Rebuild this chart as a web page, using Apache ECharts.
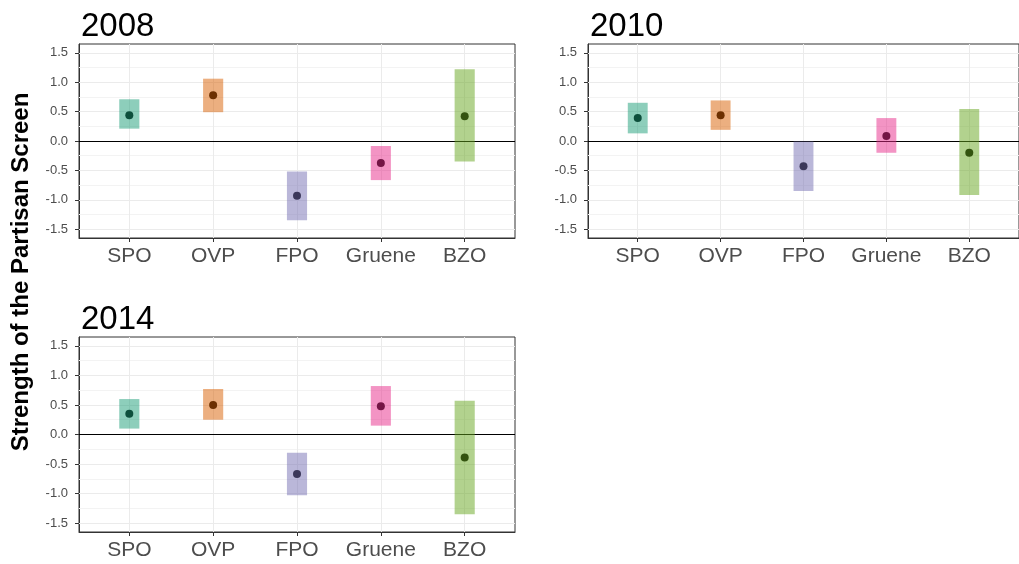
<!DOCTYPE html>
<html>
<head>
<meta charset="utf-8">
<script src="https://cdn.jsdelivr.net/npm/echarts@6/dist/echarts.min.js"></script>
<style>
  html, body { margin: 0; padding: 0; background: #fff; }
  #main { width: 1019px; height: 564px; }
</style>
</head>
<body>
<div id="main"></div>
<script>
// categories and values
var parties = ['SPO', 'OVP', 'FPO', 'Gruene', 'BZO'];
var years = ['2008', '2010', '2014'];

var est2008 = [0.44, 0.78, -0.93, -0.375, 0.42];
var lo2008  = [0.21, 0.49, -1.35, -0.665, -0.35];
var hi2008  = [0.71, 1.06, -0.52, -0.085, 1.22];

var est2010 = [0.39, 0.44, -0.43, 0.085, -0.2];
var lo2010  = [0.13, 0.19, -0.85, -0.2, -0.92];
var hi2010  = [0.65, 0.69, -0.01, 0.39, 0.545];

var est2014 = [0.35, 0.5, -0.67, 0.48, -0.39];
var lo2014  = [0.1, 0.25, -1.03, 0.15, -1.35];
var hi2014  = [0.6, 0.77, -0.31, 0.82, 0.57];

var yTicks = [-1.5, -1, -0.5, 0, 0.5, 1, 1.5];
var yMinor = [-1.25, -0.75, -0.25, 0.25, 0.75, 1.25];

var barColors = ['#1B9E77', '#D95F02', '#7570B3', '#E7298A', '#66A61E'];
var dotColors = ['#0d4f3c', '#6d3001', '#3b385a', '#741545', '#33530f'];

var font = '"Liberation Sans", Arial, sans-serif';
var barW = 0.24;

var myChart = echarts.init(document.getElementById('main'));

var panels = [
  { est: est2008, lo: lo2008, hi: hi2008, left: 79,  top: 44,  width: 436, height: 194 },
  { est: est2010, lo: lo2010, hi: hi2010, left: 588, top: 44,  width: 437, height: 194 },
  { est: est2014, lo: lo2014, hi: hi2014, left: 79,  top: 337, width: 436, height: 195 }
];

function renderRange(params, api) {
  var x = api.value(0);
  var top = api.coord([x, api.value(2)]);
  var bot = api.coord([x, api.value(1)]);
  var c = api.coord([x, api.value(3)]);
  var w = api.size([barW, 0])[0];
  var i = params.dataIndex;
  return {
    type: 'group',
    children: [
      { type: 'rect', shape: { x: top[0] - w / 2, y: top[1], width: w, height: bot[1] - top[1] },
        style: { fill: barColors[i], opacity: 0.5 } },
      { type: 'circle', shape: { cx: c[0], cy: c[1], r: 4 }, style: { fill: dotColors[i] } }
    ]
  };
}

var grids = [], xAxes = [], yAxes = [], series = [], titles = [];
var xIdx = parties.map(function (p, i) { return i; });

panels.forEach(function (p, k) {
  grids.push({ left: p.left, top: p.top, width: p.width, height: p.height,
    show: true, borderColor: '#333333', borderWidth: 1, backgroundColor: '#fff' });
  titles.push({ text: years[k], left: p.left - 3, top: p.top - 39,
    textStyle: { fontFamily: font, fontSize: 33, fontWeight: 'normal', color: '#000' } });
  xAxes.push({
    type: 'value', gridIndex: k, min: -0.6, max: 4.6,
    axisLine: { show: true, onZero: false, lineStyle: { color: '#333' } },
    splitLine: { show: false },
    axisTick: { show: true, customValues: xIdx, length: 4, lineStyle: { color: '#333' } },
    axisLabel: { customValues: xIdx, margin: 8, color: '#4d4d4d', fontSize: 21, fontFamily: font,
      formatter: function (v) { return parties[Math.round(v)]; } }
  });
  yAxes.push({
    type: 'value', gridIndex: k, min: -1.65, max: 1.65,
    axisLine: { show: true, onZero: false, lineStyle: { color: '#333' } },
    splitLine: { show: false },
    axisTick: { show: true, customValues: yTicks, length: 4, lineStyle: { color: '#333' } },
    axisLabel: { customValues: yTicks, margin: 11, color: '#4d4d4d', fontSize: 13, fontFamily: font,
      formatter: function (v) { return v.toFixed(1); } }
  });

  var minorLines = yMinor.map(function (v) { return { yAxis: v, lineStyle: { color: '#f3f3f3', width: 1, type: 'solid' } }; });
  var majorLines = yTicks.map(function (v) { return { yAxis: v, lineStyle: { color: '#ebebeb', width: 1, type: 'solid' } }; });
  var vLines = xIdx.map(function (v) { return { xAxis: v, lineStyle: { color: '#ebebeb', width: 1, type: 'solid' } }; });
  series.push({
    type: 'line', xAxisIndex: k, yAxisIndex: k, data: [], z: 1, silent: true,
    markLine: { silent: true, symbol: 'none', label: { show: false }, animation: false, z: 1,
      data: minorLines.concat(majorLines, vLines) }
  });
  series.push({
    type: 'line', xAxisIndex: k, yAxisIndex: k, data: [], z: 2, silent: true,
    markLine: { silent: true, symbol: 'none', label: { show: false }, animation: false, z: 2,
      data: [{ yAxis: 0, lineStyle: { color: '#000', width: 1.2, type: 'solid' } }] }
  });
  series.push({
    type: 'custom', xAxisIndex: k, yAxisIndex: k, z: 6,
    renderItem: renderRange,
    encode: { x: 0, y: [1, 2, 3] },
    data: parties.map(function (name, i) { return [i, p.lo[i], p.hi[i], p.est[i]]; })
  });
});

var option = {
  animation: false,
  title: titles,
  grid: grids,
  xAxis: xAxes,
  yAxis: yAxes,
  series: series,
  graphic: [{
    type: 'text', x: 21, y: 272, rotation: Math.PI / 2,
    style: { text: 'Strength of the Partisan Screen', font: 'bold 24px ' + font,
      align: 'center', verticalAlign: 'middle', fill: '#000' }
  }]
};

myChart.setOption(option);
</script>
</body>
</html>
